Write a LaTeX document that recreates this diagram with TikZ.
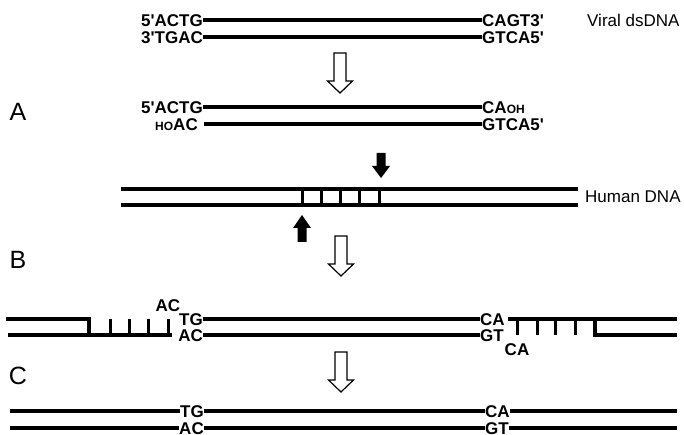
\documentclass[tikz,border=0pt]{standalone}
\usepackage{fontspec}
\setmainfont{Liberation Sans}
\begin{document}
\begin{tikzpicture}[x=1pt,y=-1pt,
  strand/.style={line width=3.1pt},
  rungline/.style={line width=3.3pt},
  base/.style={font=\fontsize{17}{20}\selectfont\bfseries, inner sep=0pt,
               text height=12.2pt, text depth=0pt},
  tag/.style={font=\fontsize{17}{20}\selectfont, inner sep=0pt, anchor=west},
  panel/.style={font=\fontsize{25}{30}\selectfont, inner sep=0pt},
  hollow/.style={draw=black, fill=white, line width=1.2pt},
  openarrow/.pic={\draw[hollow] (-6,0) -- (6,0) -- (6,28) -- (12.5,28) -- (0,40)
                   -- (-12.5,28) -- (-6,28) -- cycle;},
  downblk/.pic={\fill (-4.5,0) -- (4.5,0) -- (4.5,13) -- (9,13) -- (0,25)
                   -- (-9,13) -- (-4.5,13) -- cycle;},
  upblk/.pic={\fill (-4.5,0) -- (4.5,0) -- (4.5,-14) -- (9,-14) -- (0,-27)
                   -- (-9,-14) -- (-4.5,-14) -- cycle;}
]
\useasboundingbox (0,0) rectangle (684,435);
\newcommand{\smallcap}[1]{{\fontsize{12}{14}\selectfont #1}}
\newcommand{\pr}{\textquotesingle}

% ---- viral double strand
\node[base, anchor=east] (v5) at (203,20) {5\pr ACTG};
\node[base, anchor=east] (v3) at (203,37) {3\pr TGAC};
\node[base, anchor=west] (v3r) at (482,20) {CAGT3\pr};
\node[base, anchor=west] (v5r) at (482,37) {GTCA5\pr};
\draw[strand] (v5.east) -- (v3r.west);
\draw[strand] (v3.east) -- (v5r.west);
\node[tag] (viral) at (587,20) {Viral dsDNA};

\pic at (340,53) {openarrow};

% ---- A: processed viral ends
\node[panel] (pA) at (18,112) {A};
\node[base, anchor=east] (a5) at (203,107) {5\pr ACTG};
\node[base, anchor=east] (a3) at (198,124) {\smallcap{HO}AC};
\coordinate (a3s) at (204,124);
\node[base, anchor=west] (aoh) at (482,107) {CA\smallcap{OH}};
\node[base, anchor=west] (a5r) at (482,124) {GTCA5\pr};
\draw[strand] (a5.east) -- (aoh.west);
\draw[strand] (a3s) -- (a5r.west);

% ---- human DNA with staggered cut sites
\coordinate (h1) at (121,189);
\coordinate (h2) at (578,189);
\coordinate (h3) at (121,205);
\coordinate (h4) at (578,205);
\draw[strand] (h1) -- (h2);
\draw[strand] (h3) -- (h4);
\foreach \x in {302.5,321.5,340.5,359.5,379.5}
  \draw[rungline] (\x,189) -- (\x,205);
\node[tag] (human) at (585,197) {Human DNA};
\pic at (381,153) {downblk};
\pic at (302,242) {upblk};

\pic at (341,236) {openarrow};

% ---- B: strand transfer
\node[panel] (pB) at (18,260) {B};
\coordinate (bl1) at (6,319);
\coordinate (bl2) at (89,319);
\coordinate (bl3) at (89,335);
\coordinate (bl4) at (8,335);
\coordinate (bl5) at (172,335);
\draw[strand, line join=miter] (bl1) -- (bl2) -- (bl3);
\draw[strand] (bl4) -- (bl5);
\foreach \x in {110.5,129.5,148.5,168.5}
  \draw[rungline] (\x,319) -- (\x,335);
\node[base] (bac) at (168,305) {AC};
\node[base, anchor=east] (btg) at (203,319) {TG};
\node[base, anchor=east] (bac2) at (203,335) {AC};
\node[base, anchor=west] (bca) at (480,319) {CA};
\node[base, anchor=west] (bgt) at (480,335) {GT};
\node[base] (bca2) at (517,349) {CA};
\draw[strand] (btg.east) -- (bca.west);
\draw[strand] (bac2.east) -- (bgt.west);
\coordinate (br1) at (508,319);
\coordinate (br2) at (677,319);
\coordinate (br3) at (595,319);
\coordinate (br4) at (595,335);
\coordinate (br5) at (677,335);
\draw[strand] (br1) -- (br2);
\draw[strand, line join=miter] (br3) -- (br4) -- (br5);
\foreach \x in {517.5,537.5,555.5,575.5}
  \draw[rungline] (\x,319) -- (\x,335);

\pic at (341,352) {openarrow};

% ---- C: integrated provirus
\node[panel] (pC) at (18,376) {C};
\coordinate (cl1) at (10,411);
\coordinate (cl2) at (10,428);
\coordinate (cr1) at (677,411);
\coordinate (cr2) at (677,428);
\node[base, anchor=east] (ctg) at (204,411) {TG};
\node[base, anchor=east] (cac) at (204,428) {AC};
\node[base, anchor=west] (cca) at (485,411) {CA};
\node[base, anchor=west] (cgt) at (485,428) {GT};
\draw[strand] (cl1) -- (ctg.west);
\draw[strand] (ctg.east) -- (cca.west);
\draw[strand] (cca.east) -- (cr1);
\draw[strand] (cl2) -- (cac.west);
\draw[strand] (cac.east) -- (cgt.west);
\draw[strand] (cgt.east) -- (cr2);
\end{tikzpicture}
\end{document}
